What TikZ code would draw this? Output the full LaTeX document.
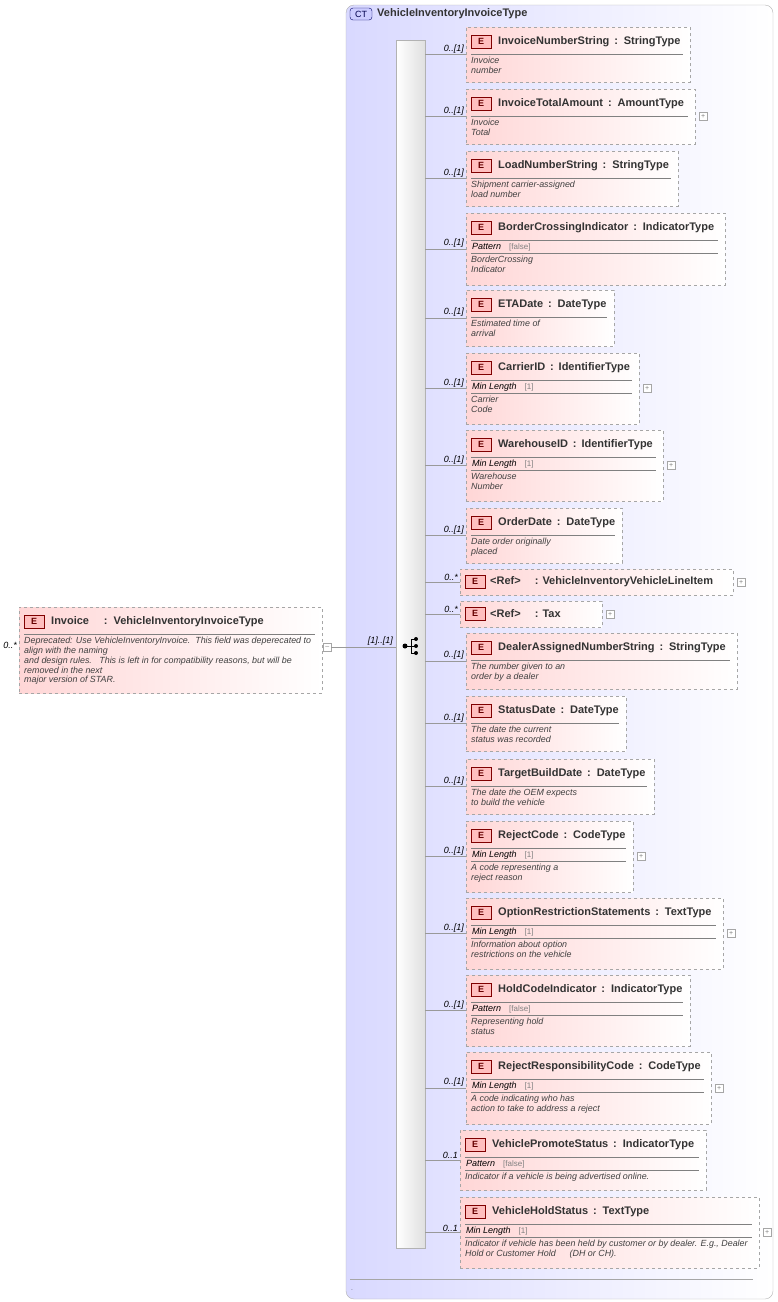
\documentclass[tikz,border=0pt]{standalone}
\usepackage{fontspec}
\setmainfont{Liberation Sans}
\begin{document}
\begin{tikzpicture}[x=1pt,y=-1pt,
 ebox/.style={draw=gray!70,dashed,left color=red!16,right color=white,anchor=north west,inner sep=0,outer sep=0},
 badge/.style={draw=red!50!black,fill=red!25,minimum width=20pt,minimum height=13pt,inner sep=0,font=\fontsize{9}{9}\selectfont\bfseries,text=red!40!black,anchor=north west},
 ttl/.style={anchor=west,inner sep=0,font=\fontsize{11}{12}\selectfont\bfseries,text=black!80},
 docu/.style={anchor=north west,inner sep=0,align=left,font=\fontsize{8.9}{9.8}\selectfont\itshape,text=black!75},
 mult/.style={anchor=south east,inner sep=1pt,font=\fontsize{9}{9}\selectfont\itshape},
 plus/.style={draw=gray!70,fill=white,minimum size=8pt,inner sep=0,font=\fontsize{7}{7}\selectfont,text=gray},
 conn/.style={draw=gray!80}]
\useasboundingbox (0,0) rectangle (777,1302);
\newcommand\elbox[7]{%
 \node[ebox,minimum width={(#4-#2)*1pt},minimum height={(#5-#3)*1pt}] (#1) at (#2,#3) {};
 \node[badge] at (#2+5,#3+8) {E};
 \node[ttl] at (#2+32,#3+15) {#6 \,:\, #7};}
\newcommand\sep[3]{\draw[gray] (#1+5,#3) -- (#2-7,#3);}
\newcommand\facet[5]{% x1 y1 x2 label value
 \sep{#1}{#3}{#2+27}
 \node[anchor=west,inner sep=0,font=\fontsize{9}{9}\selectfont\itshape] at (#1+6,#2+34) {#4\hspace{8pt}{\color{gray}\upshape\fontsize{8}{8}\selectfont #5}};
 \sep{#1}{#3}{#2+40}}
\newcommand\plusat[1]{\node[plus,anchor=west] at ([xshift=4pt]#1.east) {+};}
% CT container
\draw[gray!60,rounded corners=8pt,left color=blue!15,right color=white] (346,5) rectangle (773,1299);
\node[draw=blue!40!black,fill=blue!20,rounded corners=3pt,minimum width=22pt,minimum height=12pt,inner sep=0,font=\fontsize{9}{9}\selectfont,text=blue!30!black] (ct) at (361,14) {CT};
\node[ttl,anchor=west] at (377,14) {VehicleInventoryInvoiceType};
\draw[gray!70] (350,1279) -- (753,1279);
\node[inner sep=0,font=\tiny] at (352,1290) {.};
% sequence bar
\node[draw=gray!60,left color=white,right color=gray!25,minimum width=29pt,minimum height=1208pt,anchor=north west,inner sep=0] (seq) at (396,40) {};
\fill (405,646) circle (2.5);
\draw (405,646) -- (411,646) (411,639) -- (411,653) (411,639) -- (416,639) (411,646) -- (416,646) (411,653) -- (416,653);
\fill (416,639) circle (2) (416,646) circle (2) (416,653) circle (2);
% Invoice element
\elbox{inv}{19}{607}{322}{693}{Invoice\hspace{10pt}}{VehicleInventoryInvoiceType}
\sep{19}{322}{634}
\node[docu] at (24,637) {Deprecated: Use VehicleInventoryInvoice.\ \ This field was deperecated to\\align with the naming\\and design rules.\ \ \ This is left in for compatibility reasons, but will be\\removed in the next\\major version of STAR.};
\node[mult,anchor=east] at (18,645) {0..*};
\node[plus,anchor=west] (mn) at (323,647) {--};
\coordinate (j) at (346,647);
\draw[conn] (mn.east) -- (j) -- (seq.west |- j);
\node[mult] at (394,647) {[1]..[1]};
% children
\elbox{b1}{466}{27}{690}{82}{InvoiceNumberString}{StringType}
\sep{466}{690}{54}\node[docu] at (471,57) {Invoice\\number};
\elbox{b2}{466}{89}{695}{144}{InvoiceTotalAmount}{AmountType}
\sep{466}{695}{116}\node[docu] at (471,119) {Invoice\\Total};\plusat{b2}
\elbox{b3}{466}{151}{678}{206}{LoadNumberString}{StringType}
\sep{466}{678}{178}\node[docu] at (471,181) {Shipment carrier-assigned\\load number};
\elbox{b4}{466}{213}{725}{285}{BorderCrossingIndicator}{IndicatorType}
\facet{466}{213}{725}{Pattern}{[false]}\node[docu] at (471,256) {BorderCrossing\\Indicator};
\elbox{b5}{466}{290}{614}{346}{ETADate}{DateType}
\sep{466}{614}{317}\node[docu] at (471,320) {Estimated time of\\arrival};
\elbox{b6}{466}{353}{639}{424}{CarrierID}{IdentifierType}
\facet{466}{353}{639}{Min Length}{[1]}\node[docu] at (471,396) {Carrier\\Code};\plusat{b6}
\elbox{b7}{466}{430}{663}{501}{WarehouseID}{IdentifierType}
\facet{466}{430}{663}{Min Length}{[1]}\node[docu] at (471,473) {Warehouse\\Number};\plusat{b7}
\elbox{b8}{466}{508}{622}{563}{OrderDate}{DateType}
\sep{466}{622}{535}\node[docu] at (471,538) {Date order originally\\placed};
\node[ebox,minimum width=273pt,minimum height=26pt] (b9) at (460,569) {};
\node[badge] at (465,575) {E};
\node[ttl] at (490,582) {<Ref>\hspace{14pt}: VehicleInventoryVehicleLineItem};\plusat{b9}
\node[ebox,minimum width=142pt,minimum height=26pt] (b10) at (460,601) {};
\node[badge] at (465,607) {E};
\node[ttl] at (490,614) {<Ref>\hspace{14pt}: Tax};\plusat{b10}
\elbox{b11}{466}{633}{737}{689}{DealerAssignedNumberString}{StringType}
\sep{466}{737}{660}\node[docu] at (471,663) {The number given to an\\order by a dealer};
\elbox{b12}{466}{696}{626}{751}{StatusDate}{DateType}
\sep{466}{626}{723}\node[docu] at (471,726) {The date the current\\status was recorded};
\elbox{b13}{466}{759}{654}{814}{TargetBuildDate}{DateType}
\sep{466}{654}{786}\node[docu] at (471,789) {The date the OEM expects\\to build the vehicle};
\elbox{b14}{466}{821}{633}{892}{RejectCode}{CodeType}
\facet{466}{821}{633}{Min Length}{[1]}\node[docu] at (471,864) {A code representing a\\reject reason};\plusat{b14}
\elbox{b15}{466}{898}{723}{969}{OptionRestrictionStatements}{TextType}
\facet{466}{898}{723}{Min Length}{[1]}\node[docu] at (471,941) {Information about option\\restrictions on the vehicle};\plusat{b15}
\elbox{b16}{466}{975}{690}{1046}{HoldCodeIndicator}{IndicatorType}
\facet{466}{975}{690}{Pattern}{[false]}\node[docu] at (471,1018) {Representing hold\\status};
\elbox{b17}{466}{1052}{711}{1124}{RejectResponsibilityCode}{CodeType}
\facet{466}{1052}{711}{Min Length}{[1]}\node[docu] at (471,1095) {A code indicating who has\\action to take to address a reject};\plusat{b17}
\elbox{b18}{460}{1130}{706}{1190}{VehiclePromoteStatus}{IndicatorType}
\facet{460}{1130}{706}{Pattern}{[false]}\node[docu] at (465,1173) {Indicator if a vehicle is being advertised online.};
\elbox{b19}{460}{1197}{759}{1268}{VehicleHoldStatus}{TextType}
\facet{460}{1197}{759}{Min Length}{[1]}\node[docu] at (465,1240) {Indicator if vehicle has been held by customer or by dealer. E.g., Dealer\\Hold or Customer Hold\hspace{14pt}(DH or CH).};\plusat{b19}
% connectors
\foreach \b/\m in {b1/0..[1],b2/0..[1],b3/0..[1],b4/0..[1],b5/0..[1],b6/0..[1],b7/0..[1],b8/0..[1],b9/0..*,b10/0..*,b11/0..[1],b12/0..[1],b13/0..[1],b14/0..[1],b15/0..[1],b16/0..[1],b17/0..[1],b18/0..1,b19/0..1}{
 \draw[conn] (seq.east |- \b.west) -- (\b.west);
 \node[mult] at ([xshift=-1pt]\b.west) {\m};}
\end{tikzpicture}
\end{document}
